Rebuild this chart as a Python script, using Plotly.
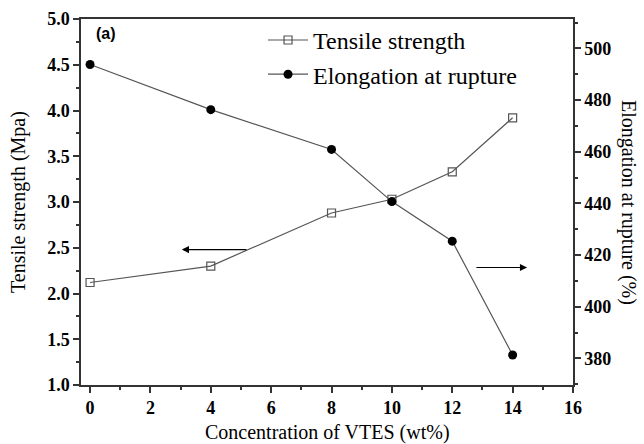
import plotly.graph_objects as go

conc = [0, 4, 8, 10, 12, 14]
tensile = [2.12, 2.30, 2.88, 3.03, 3.33, 3.92]
elongation = [493.8, 476.3, 460.9, 440.7, 425.4, 381.3]

x_ticks = [0, 2, 4, 6, 8, 10, 12, 14, 16]
y1_ticks = [1.0, 1.5, 2.0, 2.5, 3.0, 3.5, 4.0, 4.5, 5.0]
y2_ticks = [380, 400, 420, 440, 460, 480, 500]

SERIF = "Liberation Serif"
line_col = "#555555"

fig = go.Figure()
fig.add_trace(go.Scatter(
    x=conc, y=tensile, mode="lines+markers", name="Tensile strength",
    line=dict(color=line_col, width=1.2),
    marker=dict(symbol="square-open", size=8, color="#555555", line=dict(width=1.2)),
))
fig.add_trace(go.Scatter(
    x=conc, y=elongation, mode="lines+markers", name="Elongation at rupture",
    yaxis="y2",
    line=dict(color=line_col, width=1.2),
    marker=dict(symbol="circle", size=9, color="black"),
))

tickfont = dict(family=SERIF, size=18, color="black")
common = dict(showgrid=False, zeroline=False, showline=True, linecolor="#333333",
              linewidth=1.5, ticks="outside", ticklen=6, tickwidth=1.5, tickcolor="#333333",
              tickfont=tickfont, automargin=False, tickmode="array")

def bold(vals, fmt):
    return ["<b>" + fmt.format(v) + "</b>" for v in vals]

fig.update_layout(
    width=644, height=444,
    margin=dict(l=81, r=71, t=19, b=59),
    plot_bgcolor="white", paper_bgcolor="white",
    showlegend=True,
    legend=dict(x=0.37, y=1.003, xanchor="left", yanchor="top",
                font=dict(family=SERIF, size=24, color="black"),
                bgcolor="rgba(0,0,0,0)", tracegroupgap=0, itemwidth=40),
    xaxis=dict(range=[-0.3, 16], tickvals=x_ticks, ticktext=bold(x_ticks, "{:d}"),
               minor=dict(dtick=1, tick0=0, ticks="outside", ticklen=3, tickcolor="#333333"),
               mirror=True, **common),
    yaxis=dict(range=[1.0, 5.0], tickvals=y1_ticks, ticktext=bold(y1_ticks, "{:.1f}"),
               minor=dict(dtick=0.25, tick0=1.0, ticks="outside", ticklen=3, tickcolor="#333333"),
               **common),
    yaxis2=dict(range=[369.7, 511.4], tickvals=y2_ticks, ticktext=bold(y2_ticks, "{:d}"),
                overlaying="y", side="right",
                minor=dict(dtick=10, tick0=380, ticks="outside", ticklen=3, tickcolor="#333333"),
                **common),
)

title_font = dict(family=SERIF, size=20, color="black")
# axis titles
fig.add_annotation(x=0.5, y=0, xref="paper", yref="paper", yshift=-47,
                   text="Concentration of VTES (wt%)", showarrow=False,
                   xanchor="center", yanchor="middle", font=title_font)
fig.add_annotation(x=0, y=0.5, xref="paper", yref="paper", xshift=-63,
                   text="Tensile strength (Mpa)", textangle=-90, showarrow=False,
                   xanchor="center", yanchor="middle", font=title_font)
fig.add_annotation(x=1.0, y=0.5, xref="paper", yref="paper", xshift=56,
                   text="Elongation at rupture (%)", textangle=90, showarrow=False,
                   xanchor="center", yanchor="middle", font=title_font)
# panel label
fig.add_annotation(x=0.027, y=0.99, xref="paper", yref="paper", text="<b>(a)</b>",
                   showarrow=False, xanchor="left", yanchor="top",
                   font=dict(family="Liberation Sans, Arial", size=16, color="black"))
# arrows indicating axes
fig.add_annotation(x=3.04, y=2.48, ax=5.23, ay=2.48, xref="x", yref="y", axref="x", ayref="y",
                   text="", showarrow=True, arrowhead=2, arrowsize=1.2, arrowwidth=1.2,
                   arrowcolor="black")
fig.add_annotation(x=14.48, y=2.284, ax=12.75, ay=2.284, xref="x", yref="y", axref="x", ayref="y",
                   text="", showarrow=True, arrowhead=2, arrowsize=1.2, arrowwidth=1.2,
                   arrowcolor="black")

fig.write_html("out.html")
